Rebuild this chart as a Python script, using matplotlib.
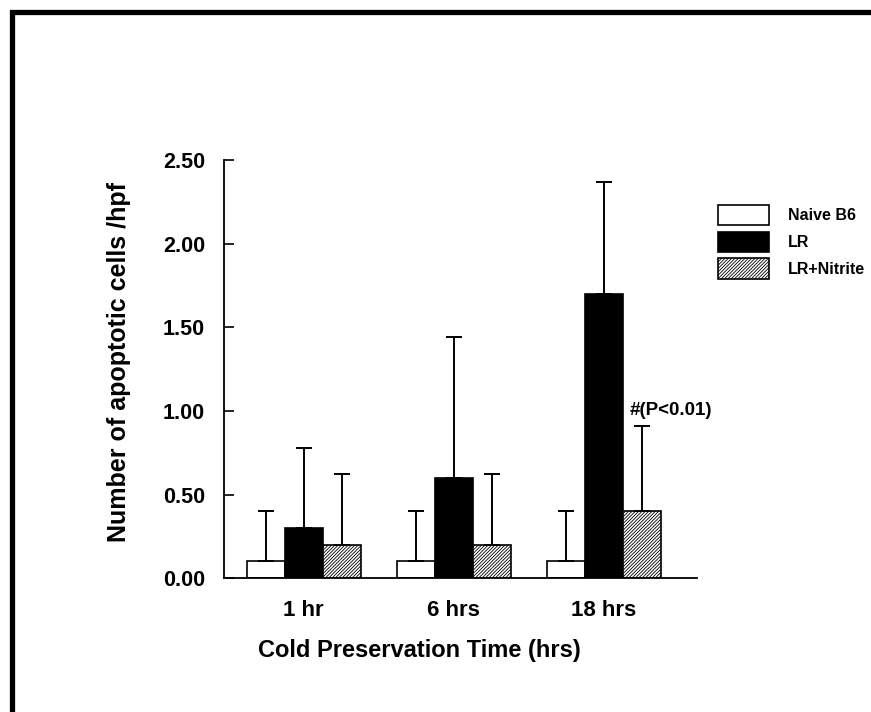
import numpy as np
import matplotlib.pyplot as plt
from matplotlib.patches import Rectangle

plt.rcParams['font.family'] = ['Liberation Sans', 'DejaVu Sans']
plt.rcParams['font.weight'] = 'bold'
plt.rcParams['hatch.linewidth'] = 0.6

times = ['1 hr', '6 hrs', '18 hrs']
groups = ['Naive B6', 'LR', 'LR+Nitrite']
naive = [0.10, 0.10, 0.10]
naive_err = [0.30, 0.30, 0.30]
lr = [0.30, 0.60, 1.70]
lr_err = [0.48, 0.84, 0.67]
nitrite = [0.20, 0.20, 0.40]
nitrite_err = [0.42, 0.42, 0.51]

fig = plt.figure(figsize=(8.71, 7.12), dpi=100)
ax = fig.add_axes([0.257, 0.188, 0.543, 0.587])

x = np.arange(len(times))
w = 0.253
ekw = dict(elinewidth=1.4, capthick=1.4)
series = [(naive, naive_err, 'white', ''), (lr, lr_err, 'black', ''),
          (nitrite, nitrite_err, 'white', '//////////')]
for i, (vals, errs, fc, hatch) in enumerate(series):
    ax.bar(x + (i - 1) * w, vals, w, color=fc, edgecolor='black', linewidth=1.2,
           hatch=hatch, label=groups[i],
           yerr=[np.zeros(len(errs)), errs], capsize=5.5, error_kw=ekw, zorder=2)

ax.text(2.445, 0.95, '#(P<0.01)', fontsize=13.5, fontweight='bold',
        ha='center', va='bottom', zorder=5)

ax.set_xlim(-0.533, 2.62)
ax.set_ylim(0, 2.5)
ax.set_yticks(np.arange(0, 2.51, 0.5))
ax.set_yticklabels(['%.2f' % v for v in np.arange(0, 2.51, 0.5)])
ax.set_xticks(x)
ax.set_xticklabels(times)
ax.tick_params(axis='y', direction='in', length=7, width=1.2, labelsize=15.5, pad=13.5)
ax.tick_params(axis='x', length=0, labelsize=16, pad=16)
for s in ['top', 'right']:
    ax.spines[s].set_visible(False)
for s in ['left', 'bottom']:
    ax.spines[s].set_linewidth(1.3)

ax.set_ylabel('Number of apoptotic cells /hpf', fontsize=18, fontweight='bold', labelpad=23)
ax.set_xlabel('Cold Preservation Time (hrs)', fontsize=17, fontweight='bold', labelpad=13)
ax.yaxis.label.set_y(0.517)
ax.xaxis.label.set_x(0.414)

ax.legend(loc='upper left', bbox_to_anchor=(1.032, 0.909), frameon=False,
          fontsize=11.5, handlelength=3.2, handleheight=1.6,
          handletextpad=1.15, labelspacing=0.4, borderaxespad=0)

# outer frame (only top and left edges fall inside the image)
fig.patches.append(Rectangle((11.5 / 871, -0.1), 1.2, 1.1 - 11.5 / 712,
                             transform=fig.transFigure, fill=False,
                             edgecolor='black', linewidth=3.8, clip_on=False))

fig.savefig('out.png', dpi=100)
